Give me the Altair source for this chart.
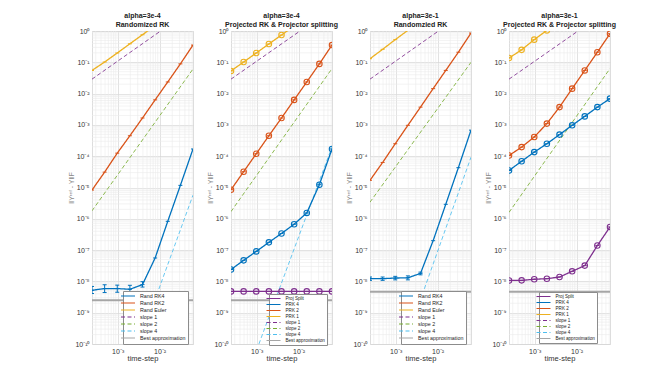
import altair as alt
import pandas as pd

FONT = "Liberation Sans"

# ---------------- data ----------------
dt = [0.000244140625, 0.00048828125, 0.0009765625, 0.001953125, 0.00390625,
      0.0078125, 0.015625, 0.03125, 0.0625]

titles = [["alpha=3e-4", "Randomized RK"],
          ["alpha=3e-4", "Projected RK & Projector splitting"],
          ["alpha=3e-1", "Randomzied RK"],
          ["alpha=3e-1", "Projected RK & Projector splitting"]]

rand_labels = ["Rand RK4", "Rand RK2", "Rand Euler", "slope 1", "slope 2", "slope 4", "Best approximation"]
proj_labels = ["Proj Split", "PRK 4", "PRK 2", "PRK 1", "slope 1", "slope 2", "slope 4", "Best approximation"]
rand_colors = ["#0072BD", "#D95319", "#EDB120", "#7E2F8E", "#77AC30", "#4DBEEE", "#A6A6A6"]
proj_colors = ["#7E2F8E", "#0072BD", "#D95319", "#EDB120", "#7E2F8E", "#77AC30", "#4DBEEE", "#A6A6A6"]

# panel 1 : alpha=3e-4, randomized
p1_rk4 = [5.2e-9, 5.9e-9, 5.9e-9, 5.6e-9, 7.9e-9, 5.6e-8, 8.3e-7, 1.17e-5, 1.7e-4]
p1_rk4_lo = [4.1e-9, 4.4e-9, 4.5e-9, 3.2e-9, 6.6e-9]
p1_rk4_hi = [6.9e-9, 7.8e-9, 7.6e-9, 7.5e-9, 9.8e-9]
p1_rk2 = [8.3e-6, 3.1e-5, 1.25e-4, 4.5e-4, 1.66e-3, 6.3e-3, 2.35e-2, 8.9e-2, 0.355]
p1_euler = [0.055, 0.102, 0.198, 0.39, 0.76, 1.5, 2.9, 5.7, 11.0]
p1_slope1 = ([0.000244140625, 0.01055], [0.029, 1.0])
p1_slope2 = ([0.000244140625, 0.0625], [1.8e-6, 0.061])
p1_slope4 = ([0.0032, 0.0625], [1e-10, 5.7e-6])
p1_best = 2.5e-9

# panel 2 : alpha=3e-4, projected
p2_split = [4.8e-9, 4.8e-9, 4.8e-9, 4.8e-9, 4.8e-9, 4.8e-9, 4.8e-9, 4.8e-9, 4.8e-9]
p2_prk4 = [2.4e-8, 4.7e-8, 9.1e-8, 1.77e-7, 3.4e-7, 6.7e-7, 1.54e-6, 1.23e-5, 1.7e-4]
p2_prk2 = [8.5e-6, 3.2e-5, 1.2e-4, 4.5e-4, 1.66e-3, 6.3e-3, 2.35e-2, 8.9e-2, 0.355]
p2_prk1 = [0.053, 0.102, 0.198, 0.385, 0.745, 1.45, 2.8, 5.5, 10.7]
p2_slope1 = ([0.000244140625, 0.0108], [0.029, 1.0])
p2_slope2 = ([0.000244140625, 0.0625], [1.7e-6, 0.063])
p2_slope4 = ([0.00113, 0.0625], [1e-10, 2.0e-4])
p2_best = 2.5e-9

# panel 3 : alpha=3e-1, randomized
p3_rk4 = [1.22e-8, 1.22e-8, 1.28e-8, 1.3e-8, 1.8e-8, 2.0e-7, 2.9e-6, 4.3e-5, 6.8e-4]
p3_rk4_lo = [1.08e-8, 1.08e-8, 1.12e-8, 1.12e-8, 1.62e-8]
p3_rk4_hi = [1.38e-8, 1.38e-8, 1.45e-8, 1.5e-8, 1.98e-8]
p3_rk2 = [1.7e-5, 6.3e-5, 2.5e-4, 9.7e-4, 3.7e-3, 1.44e-2, 5.5e-2, 0.21, 0.86]
p3_euler = [0.13, 0.26, 0.53, 1.05, 2.1, 4.2, 8.4, 16.8, 33.6]
p3_slope1 = ([0.000244140625, 0.0105], [0.029, 1.0])
p3_slope2 = ([0.000244140625, 0.0625], [3.4e-6, 0.10])
p3_slope4 = ([0.00165, 0.0625], [1e-10, 9.3e-5])
p3_best = 4.7e-9

# panel 4 : alpha=3e-1, projected
p4_split = [1.07e-8, 1.08e-8, 1.17e-8, 1.22e-8, 1.38e-8, 2.1e-8, 3.2e-8, 1.4e-7, 5.5e-7]
p4_prk4 = [3.5e-5, 6.9e-5, 1.35e-4, 2.5e-4, 4.9e-4, 9.7e-4, 1.87e-3, 3.7e-3, 6.9e-3]
p4_prk2 = [1.05e-4, 1.95e-4, 4.1e-4, 1.1e-3, 3.7e-3, 1.44e-2, 5.5e-2, 0.21, 0.82]
p4_prk1 = [0.137, 0.25, 0.53, 1.05, 2.1, 4.2, 8.4, 16.8, 33.6]
p4_slope1 = ([0.000244140625, 0.0108], [0.029, 1.0])
p4_slope2 = ([0.000244140625, 0.0625], [1.6e-6, 0.063])
p4_slope4 = ([0.03, 0.0625], [1e-12, 3e-11])   # below the visible range
p4_best = 4.7e-9

# ---------------- axes helpers ----------------
y_decades = [1e-10, 1e-9, 1e-8, 1e-7, 1e-6, 1e-5, 1e-4, 1e-3, 1e-2, 1e-1, 1e0]
x_decades = [1e-3, 1e-2]
y_minor = [k * 10.0 ** e for e in range(-10, 0) for k in range(2, 10)]
x_minor = [k * 1e-4 for k in range(3, 10)] + [k * 1e-3 for k in range(2, 10)] + [k * 1e-2 for k in range(2, 7)]

SUP = str.maketrans("-0123456789", "⁻⁰¹²³⁴⁵⁶⁷⁸⁹")


def sup(e):
    return "10" + str(e).translate(SUP)


def label_expr(exps):
    s = ""
    for e in exps[:-1]:
        s += f"datum.value < {10 ** (e + 0.5)} ? '{sup(e)}' : "
    s += f"'{sup(exps[-1])}'"
    return s


y_expr = label_expr(list(range(-10, 1)))
x_expr = label_expr([-3, -2])

W, H = 101, 313
xscale = alt.Scale(type="log", domain=[dt[0], dt[-1]], nice=False)
yscale = alt.Scale(type="log", domain=[1e-10, 1], nice=False)
xaxis = alt.Axis(values=x_decades, labelExpr=x_expr, title="time-step", grid=True,
                 gridColor="#d6d6d6", gridWidth=0.7, ticks=False, domain=False,
                 labelPadding=3, labelFontSize=7, labelColor="#333", titleFontSize=7.5,
                 titleFontWeight="normal", titleColor="#333", titlePadding=0, labelFont=FONT,
                 titleFont=FONT)
yaxis = alt.Axis(values=y_decades, labelExpr=y_expr, title="‖Yʳᵉᶠ - Y‖F", grid=True,
                 gridColor="#d6d6d6", gridWidth=0.7, ticks=False, domain=False,
                 labelPadding=3, labelFontSize=7, labelColor="#333", titleFontSize=7,
                 titleFontWeight="normal", titleColor="#888", titleX=-18, titleY=H / 2,
                 titleBaseline="bottom", titleAngle=270, titleAlign="center",
                 labelFont=FONT, titleFont=FONT)


def X(f):
    return alt.X(f, type="quantitative", scale=xscale, axis=xaxis)


def Y(f):
    return alt.Y(f, type="quantitative", scale=yscale, axis=yaxis)


def panel(title, labels, colors, solid, markers, errs, slopes, best, lx, ly, fs, rowpad, lpad):
    dashes = [[1, 0] if not l.startswith("slope") else [4, 2.5] for l in labels]
    leg = alt.Legend(title=None, orient="none", legendX=lx, legendY=ly, fillColor="white",
                     strokeColor="#8c8c8c", padding=lpad, labelFontSize=fs, labelFont=FONT,
                     labelColor="#222", symbolType="M-3.5,0H3.5", symbolSize=16,
                     symbolStrokeWidth=1.2, rowPadding=rowpad, labelOffset=9, offset=0,
                     cornerRadius=0)
    col = alt.Color("series:N", scale=alt.Scale(domain=labels, range=colors), legend=leg)
    dash = alt.StrokeDash("series:N", scale=alt.Scale(domain=labels, range=dashes), legend=leg)

    gy = alt.Chart(pd.DataFrame({"g": y_minor})).mark_rule(
        color="#ebebeb", strokeWidth=0.6, clip=True).encode(y=Y("g"))
    gx = alt.Chart(pd.DataFrame({"g": x_minor})).mark_rule(
        color="#ebebeb", strokeWidth=0.6, clip=True).encode(x=X("g"))

    srows = []
    for name, (xs, ys) in slopes:
        for a, b in zip(xs, ys):
            srows.append({"series": name, "x": a, "y": b})
    sl = alt.Chart(pd.DataFrame(srows)).mark_line(strokeWidth=0.85, clip=True).encode(
        x=X("x"), y=Y("y"), color=col, strokeDash=dash)

    brows = [{"series": "Best approximation", "x": dt[0], "y": best},
             {"series": "Best approximation", "x": dt[-1], "y": best}]
    bl = alt.Chart(pd.DataFrame(brows)).mark_line(strokeWidth=2, clip=True).encode(
        x=X("x"), y=Y("y"), color=col, strokeDash=dash)

    drows = []
    for name, vals in solid:
        for a, b in zip(dt, vals):
            drows.append({"series": name, "x": a, "y": b})
    ddf = pd.DataFrame(drows)
    dl = alt.Chart(ddf).mark_line(strokeWidth=1.3, clip=True).encode(
        x=X("x"), y=Y("y"), color=col, strokeDash=dash)

    cap = dict(shape="M-1,0H1", filled=False, size=16, strokeWidth=1, clip=True, opacity=1)
    layers = [gy, gx, sl, bl, dl]
    if markers == "circle":
        layers.append(alt.Chart(ddf).mark_point(shape="circle", filled=False, size=30,
                                                strokeWidth=1.1, clip=True, opacity=1).encode(
            x=X("x"), y=Y("y"), color=col))
    layers.append(alt.Chart(ddf).mark_point(**cap).encode(x=X("x"), y=Y("y"), color=col))
    erows = []
    for name, lo, hi in errs:
        for a, l, h in zip(dt, lo, hi):
            erows.append({"series": name, "x": a, "lo": l, "hi": h})
    if erows:
        edf = pd.DataFrame(erows)
        layers.append(alt.Chart(edf).mark_rule(strokeWidth=1, clip=True).encode(
            x=X("x"), y=Y("lo"), y2="hi", color=col))
        layers.append(alt.Chart(edf).mark_point(**cap).encode(x=X("x"), y=Y("lo"), color=col))
        layers.append(alt.Chart(edf).mark_point(**cap).encode(x=X("x"), y=Y("hi"), color=col))

    return alt.layer(*layers).properties(
        width=W, height=H,
        title=alt.TitleParams(text=title, fontSize=7, fontWeight="bold", font=FONT,
                              color="#222", offset=-1, lineHeight=9, frame="group"))


c1 = panel(titles[0], rand_labels, rand_colors,
           [("Rand RK4", p1_rk4), ("Rand RK2", p1_rk2), ("Rand Euler", p1_euler)], "tick",
           [("Rand RK4", p1_rk4_lo, p1_rk4_hi)],
           [("slope 1", p1_slope1), ("slope 2", p1_slope2), ("slope 4", p1_slope4)],
           p1_best, 31, 260, 5.3, 0, 2)
c2 = panel(titles[1], proj_labels, proj_colors,
           [("Proj Split", p2_split), ("PRK 4", p2_prk4), ("PRK 2", p2_prk2), ("PRK 1", p2_prk1)],
           "circle", [],
           [("slope 1", p2_slope1), ("slope 2", p2_slope2), ("slope 4", p2_slope4)],
           p2_best, 38, 263, 4.6, 0, 1.5)
c3 = panel(titles[2], rand_labels, rand_colors,
           [("Rand RK4", p3_rk4), ("Rand RK2", p3_rk2), ("Rand Euler", p3_euler)], "tick",
           [("Rand RK4", p3_rk4_lo, p3_rk4_hi)],
           [("slope 1", p3_slope1), ("slope 2", p3_slope2), ("slope 4", p3_slope4)],
           p3_best, 31, 260, 5.3, 0, 2)
c4 = panel(titles[3], proj_labels, proj_colors,
           [("Proj Split", p4_split), ("PRK 4", p4_prk4), ("PRK 2", p4_prk2), ("PRK 1", p4_prk1)],
           "circle", [],
           [("slope 1", p4_slope1), ("slope 2", p4_slope2), ("slope 4", p4_slope4)],
           p4_best, 30, 261, 4.6, 0, 1.5)

chart = alt.hconcat(c1, c2, c3, c4, spacing=38, bounds="flush").resolve_scale(
    color="independent", strokeDash="independent"
).properties(
    padding={"left": 58, "top": 3, "right": 5, "bottom": 5}
).configure_view(stroke="#777", strokeWidth=0.8).configure(font=FONT)

chart.save("out.html", embed_options={"renderer": "svg", "actions": False})
